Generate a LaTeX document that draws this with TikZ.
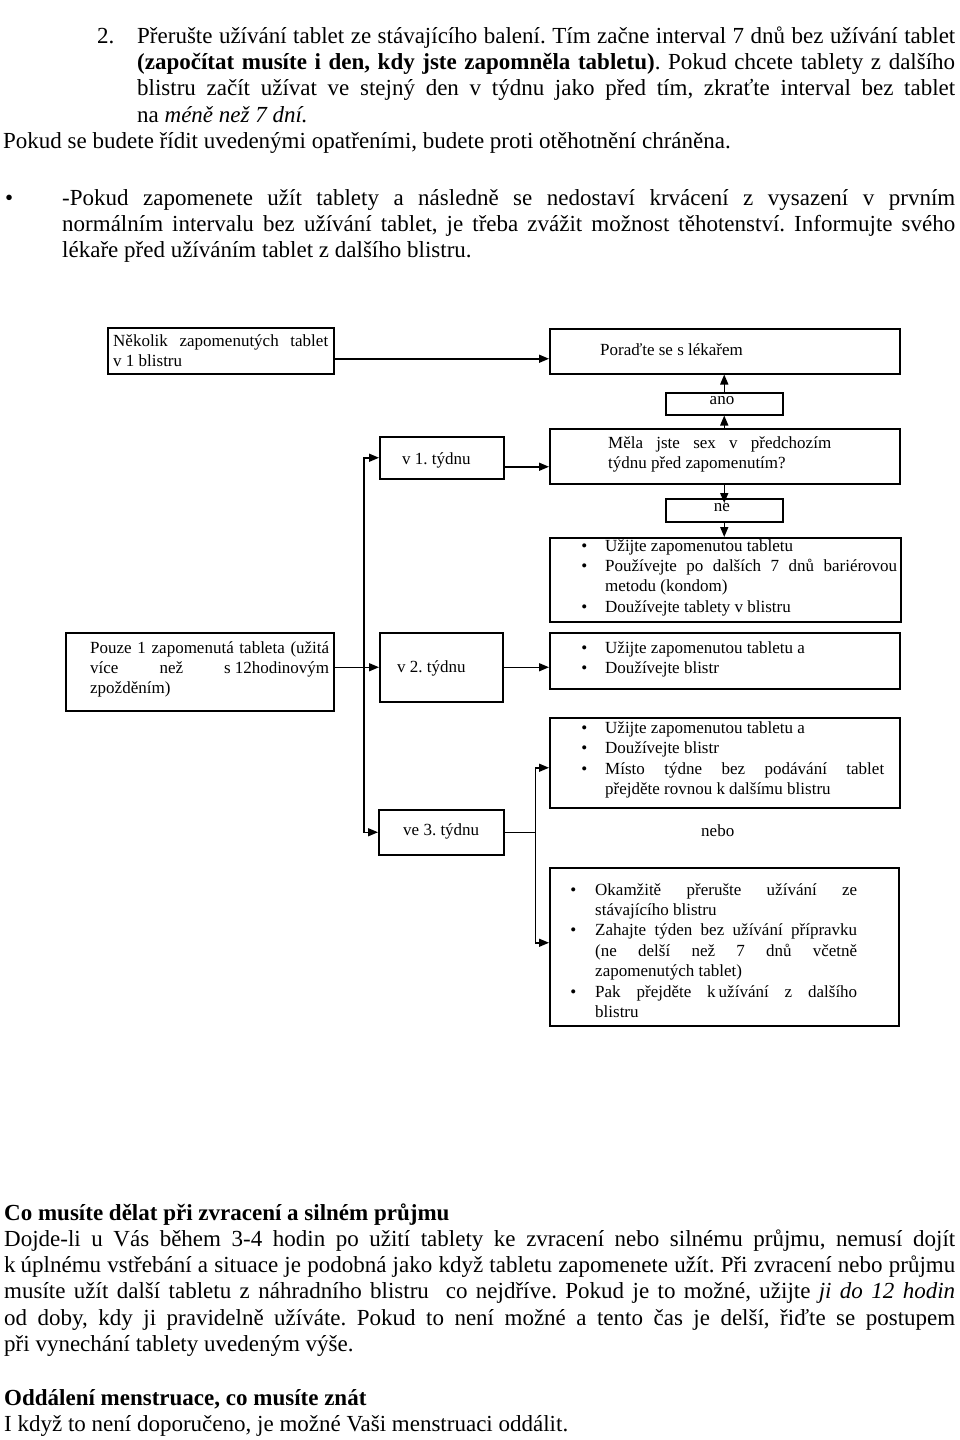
\documentclass[tikz,border=0pt]{standalone}
\usepackage{fontspec}
\setmainfont{Liberation Serif}
\usetikzlibrary{arrows.meta,calc}
\newcommand\JL[1]{\leavevmode\makebox[\linewidth][s]{#1}}
\newcommand\BU[1]{\leavevmode\llap{\textbullet\hspace{#1}}}
\frenchspacing
\begin{document}
\begin{tikzpicture}[x=1pt,y=-1pt,
  body/.style={font=\fontsize{23}{26.4}\selectfont, inner sep=0, anchor=base west},
  fc/.style={font=\fontsize{17}{20.4}\selectfont, inner sep=0, anchor=base west},
  box/.style={draw, line width=1.5pt, inner sep=0, anchor=north west},
  arr/.style={line width=1.5pt, -{Triangle[length=10pt,width=8pt]}},
  ln/.style={line width=1.5pt}]
\fill[white] (0,0) rectangle (960,1440);
\useasboundingbox (0,0) rectangle (960,1440);

% ---------- top text ----------
\node[body] (n2) at (97,43) {2.};
\node[body] (p1) at (137,43) {\parbox[t]{818pt}{%
\JL{Přerušte užívání tablet ze stávajícího balení. Tím začne interval 7 dnů bez užívání tablet}\\
\JL{\textbf{(započítat musíte i den, kdy jste zapomněla tabletu)}. Pokud chcete tablety z dalšího}\\
\JL{blistru začít užívat ve stejný den v týdnu jako před tím, zkraťte interval bez tablet}\\
na \textit{méně než 7 dní.}}};
\node[body] (p2) at (3,148) {Pokud se budete řídit uvedenými opatřeními, budete proti otěhotnění chráněna.};
\node[body] (bul) at (5,205) {\textbullet};
\node[body] (p3) at (62,205) {\parbox[t]{893pt}{%
\JL{-Pokud zapomenete užít tablety a následně se nedostaví krvácení z vysazení v prvním}\\
\JL{normálním intervalu bez užívání tablet, je třeba zvážit možnost těhotenství. Informujte svého}\\
lékaře před užíváním tablet z dalšího blistru.}};

% ---------- boxes ----------
\node[box, minimum width=226pt, minimum height=46pt] (A) at (107,327) {};
\node[box, minimum width=350pt, minimum height=45pt] (P) at (549,328) {};
\node[box, minimum width=117pt, minimum height=22pt] (ano) at (665,392) {};
\node[box, minimum width=350pt, minimum height=55pt] (M) at (549,428) {};
\node[box, minimum width=117pt, minimum height=23pt] (ne) at (665,498) {};
\node[box, minimum width=124pt, minimum height=42pt] (v1) at (379,436) {};
\node[box, minimum width=351pt, minimum height=84pt] (B1) at (549,537) {};
\node[box, minimum width=268pt, minimum height=78pt] (Pouze) at (65,632) {};
\node[box, minimum width=123pt, minimum height=69pt] (v2) at (379,632) {};
\node[box, minimum width=350pt, minimum height=56pt] (B2) at (549,632) {};
\node[box, minimum width=350pt, minimum height=90pt] (B3) at (549,717) {};
\node[box, minimum width=125pt, minimum height=45pt] (v3) at (378,809) {};
\node[box, minimum width=349pt, minimum height=158pt] (B4) at (549,867) {};

% ---------- box texts ----------
\node[fc] (tA) at (113,346) {\parbox[t]{215pt}{\JL{Několik zapomenutých tablet}\\ v 1 blistru}};
\node[fc] (tP) at (600,355) {Poraďte se s lékařem};
\node[fc, anchor=base] (tano) at (722,404) {ano};
\node[fc] (tM) at (608,448) {\parbox[t]{223pt}{\JL{Měla jste sex v předchozím}\\ týdnu před zapomenutím?}};
\node[fc, anchor=base] (tne) at (722,511) {ne};
\node[fc] (t1) at (402,464) {v 1. týdnu};
\node[fc] (tB1) at (605,551) {\parbox[t]{292pt}{%
\BU{18pt}Užijte zapomenutou tabletu\\
\BU{18pt}\JL{Používejte po dalších 7 dnů bariérovou}\\
metodu (kondom)\\
\BU{18pt}Doužívejte tablety v blistru}};
\node[fc] (tPouze) at (90,653) {\parbox[t]{239pt}{%
\JL{Pouze 1 zapomenutá tableta (užitá}\\
\JL{více než s\hspace{4pt}12hodinovým}\\
zpožděním)}};
\node[fc] (t2) at (397,672) {v 2. týdnu};
\node[fc] (tB2) at (605,653) {\parbox[t]{280pt}{%
\BU{18pt}Užijte zapomenutou tabletu a\\
\BU{18pt}Doužívejte blistr}};
\node[fc] (tB3) at (605,733.5) {\parbox[t]{279pt}{%
\BU{18pt}Užijte zapomenutou tabletu a\\
\BU{18pt}Doužívejte blistr\\
\BU{18pt}\JL{Místo týdne bez podávání tablet}\\
přejděte rovnou k\hspace{4pt}dalšímu blistru}};
\node[fc] (t3) at (403,835) {ve 3. týdnu};
\node[fc] (tnebo) at (701,836) {nebo};
\node[fc] (tB4) at (595,895) {\parbox[t]{262pt}{%
\BU{19pt}\JL{Okamžitě přerušte užívání ze}\\
stávajícího blistru\\
\BU{19pt}\JL{Zahajte týden bez užívání přípravku}\\
\JL{(ne delší než 7 dnů včetně}\\
zapomenutých tablet)\\
\BU{19pt}\JL{Pak přejděte k\hspace{3pt}užívání z dalšího}\\
blistru}};

% ---------- connectors ----------
\coordinate (a1) at ([yshift=-8pt]A.east);
\draw[arr] (a1) -- (a1 -| P.west);
\draw[arr] (ano.south |- M.north) -- (ano.south);
\draw[arr] (ano.north) -- (ano.north |- P.south);
\coordinate (nein) at ([yshift=-5pt]ne.north);
\draw[arr] (nein |- M.south) -- (nein);
\draw[arr] (ne.south) -- (ne.south |- B1.north);
\coordinate (v1o) at ([yshift=-9pt]v1.east);
\draw[arr] (v1o) -- (v1o -| M.west);
\coordinate (tr) at (364,666);
\draw[arr] (Pouze.east |- v2.west) -- (v2.west);
\draw[arr] (tr) -- (tr |- v1.west) -- (v1.west);
\draw[arr] (tr) -- (tr |- v3.west) -- (v3.west);
\draw[arr] (v2.east) -- (v2.east -| B2.west);
\coordinate (j) at ($(v3.east)+(31pt,0)$);
\draw[ln] (v3.east) -- (j);
\coordinate (b3i) at ([yshift=-5pt]B3.west);
\draw[arr] (j) |- (b3i);
\coordinate (b4i) at ([yshift=4pt]B4.west);
\draw[arr] (j) |- (b4i);

% ---------- bottom text ----------
\node[body] (h1) at (4,1220) {\textbf{Co musíte dělat při zvracení a silném průjmu}};
\node[body] (p4) at (4,1246) {\parbox[t]{951pt}{%
\JL{Dojde-li u Vás během 3-4 hodin po užití tablety ke zvracení nebo silnému průjmu, nemusí dojít}\\
\JL{k\hspace{5pt}úplnému vstřebání a situace je podobná jako když tabletu zapomenete užít. Při zvracení nebo průjmu}\\
\JL{musíte užít další tabletu z náhradního blistru\ \ co nejdříve. Pokud je to možné, užijte \textit{ji do 12 hodin}}\\
\JL{od doby, kdy ji pravidelně užíváte. Pokud to není možné a tento čas je delší, řiďte se postupem}\\
při vynechání tablety uvedeným výše.}};
\node[body] (h2) at (4,1405) {\textbf{Oddálení menstruace, co musíte znát}};
\node[body] (p5) at (4,1431) {I když to není doporučeno, je možné Vaši menstruaci oddálit.};
\end{tikzpicture}
\end{document}
